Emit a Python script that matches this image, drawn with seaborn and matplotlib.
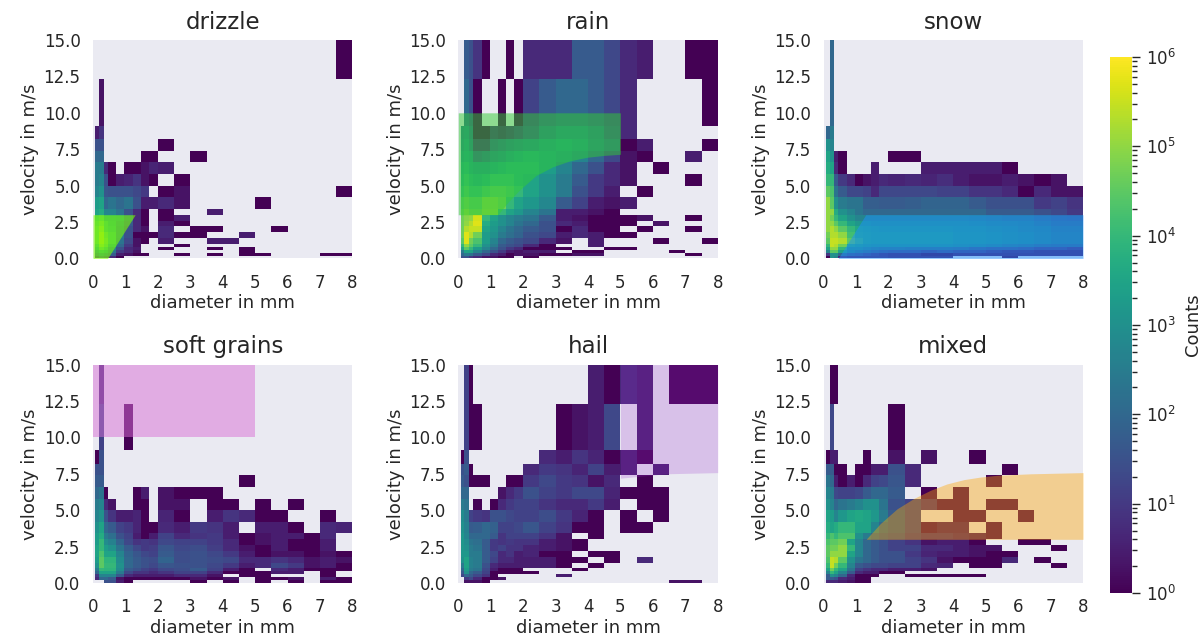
import numpy as np
import matplotlib
matplotlib.use('Agg')
import matplotlib.pyplot as plt
import seaborn as sns
from matplotlib.colors import LogNorm

# bin edges of the disdrometer classes
diameter_edges = [0.07, 0.19, 0.33, 0.46, 0.72, 0.97, 1.22, 1.47, 1.72, 2.0, 2.5, 3.0, 3.5,
                  4.0, 4.5, 5.0, 5.5, 6.0, 6.5, 7.0, 7.5, 8.0]
velocity_edges = [0, 0.2, 0.4, 0.6, 0.8, 1.0, 1.4, 1.8, 2.2, 2.6, 3.0, 3.4, 4.2, 5.0, 5.8, 6.6,
                  7.4, 8.2, 9.1, 12.3, 15.0]

# counts per bin, top row = fastest class, 0 = empty
drizzle = [
    [0, 0, 0, 0, 0, 0, 0, 0, 0, 0, 0, 0, 0, 0, 0, 0, 0, 0, 0, 0, 1],
    [0, 2, 0, 0, 0, 0, 0, 0, 0, 0, 0, 0, 0, 0, 0, 0, 0, 0, 0, 0, 0],
    [3, 8, 0, 0, 0, 0, 0, 0, 0, 0, 0, 0, 0, 0, 0, 0, 0, 0, 0, 0, 0],
    [30, 30, 0, 0, 0, 0, 0, 0, 0, 1, 0, 0, 0, 0, 0, 0, 0, 0, 0, 0, 0],
    [100, 100, 0, 0, 0, 0, 0, 1, 1, 0, 0, 1, 0, 0, 0, 0, 0, 0, 0, 0, 0],
    [300, 300, 5, 1, 0, 1, 1, 2, 4, 3, 0, 0, 0, 0, 0, 0, 0, 0, 0, 0, 0],
    [300, 500, 30, 1, 3, 4, 8, 2, 1, 0, 1, 0, 0, 0, 0, 0, 0, 0, 0, 0, 0],
    [500, 1000, 40, 30, 30, 30, 20, 10, 0, 1, 2, 0, 0, 0, 0, 0, 0, 0, 0, 0, 1],
    [2000, 3000, 100, 200, 100, 200, 30, 3, 3, 5, 2, 0, 0, 0, 0, 1, 0, 0, 0, 0, 0],
    [3000, 5000, 500, 500, 200, 30, 5, 1, 0, 1, 0, 0, 3, 0, 0, 0, 0, 0, 0, 0, 0],
    [10000, 20000, 2000, 2000, 1000, 100, 5, 1, 0, 1, 3, 0, 0, 0, 0, 0, 0, 0, 0, 0, 0],
    [20000, 50000, 10000, 3000, 500, 50, 5, 1, 0, 3, 1, 0, 0, 0, 0, 0, 0, 0, 0, 0, 0],
    [30000, 100000, 10000, 5000, 300, 30, 5, 2, 0, 5, 0, 1, 1, 0, 0, 0, 1, 0, 0, 0, 0],
    [30000, 200000, 30000, 10000, 300, 30, 1, 1, 1, 5, 1, 1, 0, 0, 3, 0, 0, 0, 0, 0, 0],
    [30000, 200000, 50000, 10000, 200, 20, 2, 1, 0, 3, 0, 0, 3, 3, 0, 0, 0, 0, 0, 0, 0],
    [10000, 100000, 30000, 3000, 100, 10, 2, 0, 0, 0, 1, 0, 0, 0, 0, 0, 0, 0, 0, 0, 0],
    [3000, 30000, 10000, 500, 30, 5, 3, 0, 0, 1, 0, 0, 1, 0, 1, 0, 0, 0, 0, 0, 0],
    [500, 5000, 2000, 200, 10, 5, 2, 0, 0, 0, 0, 0, 0, 0, 1, 0, 0, 0, 0, 0, 0],
    [100, 500, 200, 50, 3, 2, 1, 1, 0, 0, 1, 0, 1, 0, 1, 1, 0, 0, 0, 1, 1],
    [10, 50, 20, 5, 1, 0, 0, 0, 0, 0, 0, 0, 0, 0, 0, 0, 0, 0, 0, 0, 0],
]
rain = [
    [0, 50, 30, 8, 1, 0, 0, 1, 0, 5, 5, 5, 50, 50, 20, 5, 3, 0, 0, 1, 1],
    [0, 100, 30, 1, 0, 0, 1, 0, 1, 15, 50, 100, 100, 50, 20, 5, 0, 0, 0, 0, 1],
    [300, 500, 100, 1, 1, 5, 3, 5, 10, 30, 200, 500, 500, 200, 30, 5, 0, 0, 0, 0, 0],
    [500, 1000, 200, 5, 5, 50, 100, 200, 300, 500, 1000, 2000, 1000, 300, 100, 1, 3, 0, 0, 0, 1],
    [1000, 2000, 1000, 50, 100, 300, 500, 1000, 2000, 3000, 2000, 1000, 500, 100, 20, 2, 1, 0, 0, 3, 0],
    [3000, 5000, 2000, 1000, 1000, 2000, 3000, 5000, 5000, 5000, 2000, 500, 100, 30, 5, 2, 0, 1, 0, 0, 0],
    [5000, 10000, 5000, 3000, 5000, 10000, 10000, 10000, 5000, 3000, 1000, 300, 50, 10, 5, 2, 0, 0, 0, 1, 0],
    [10000, 20000, 10000, 10000, 20000, 30000, 30000, 20000, 10000, 3000, 1000, 300, 30, 10, 3, 0, 1, 0, 0, 0, 0],
    [30000, 50000, 30000, 30000, 80000, 80000, 50000, 10000, 3000, 1500, 600, 50, 15, 3, 2, 3, 0, 0, 0, 0, 0],
    [50000, 100000, 50000, 50000, 100000, 100000, 10000, 3000, 1500, 500, 200, 3, 3, 2, 1, 0, 0, 0, 0, 0, 0],
    [50000, 80000, 100000, 400000, 10000, 3000, 1000, 500, 300, 200, 50, 3, 2, 1, 1, 1, 2, 0, 0, 1, 0],
    [50000, 100000, 200000, 500000, 5000, 2000, 1000, 500, 200, 100, 30, 5, 3, 1, 1, 1, 0, 2, 0, 0, 0],
    [50000, 200000, 300000, 300000, 3000, 1500, 500, 200, 100, 50, 30, 1, 5, 1, 1, 0, 1, 0, 0, 1, 0],
    [50000, 500000, 200000, 50000, 2000, 1000, 300, 150, 80, 30, 20, 3, 5, 3, 1, 1, 0, 0, 0, 0, 0],
    [30000, 500000, 50000, 20000, 2000, 500, 100, 50, 30, 20, 5, 2, 0, 3, 0, 0, 0, 1, 0, 0, 1],
    [10000, 100000, 30000, 10000, 1000, 300, 50, 30, 20, 5, 1, 0, 0, 3, 0, 0, 0, 0, 0, 0, 0],
    [3000, 30000, 10000, 2000, 500, 100, 30, 10, 5, 1, 1, 1, 0, 0, 1, 1, 0, 0, 0, 0, 0],
    [300, 3000, 3000, 500, 100, 30, 10, 3, 2, 3, 3, 0, 1, 1, 0, 0, 0, 0, 1, 0, 0],
    [100, 300, 200, 50, 20, 5, 3, 1, 2, 2, 1, 1, 2, 2, 0, 0, 0, 0, 0, 1, 0],
    [30, 30, 10, 5, 2, 2, 1, 1, 0, 1, 0, 0, 0, 0, 0, 0, 0, 0, 0, 0, 0],
]
snow = [
    [0, 100, 0, 0, 0, 0, 0, 0, 0, 0, 0, 0, 0, 0, 0, 0, 0, 0, 0, 0, 0],
    [0, 100, 0, 0, 0, 0, 0, 0, 0, 0, 0, 0, 0, 0, 0, 0, 0, 0, 0, 0, 0],
    [100, 300, 0, 0, 0, 0, 0, 0, 0, 0, 0, 0, 0, 0, 0, 0, 0, 0, 0, 0, 0],
    [1000, 500, 0, 0, 0, 0, 0, 0, 0, 0, 0, 0, 0, 0, 0, 0, 0, 0, 0, 0, 0],
    [3000, 1000, 3, 1, 0, 0, 0, 0, 0, 1, 1, 0, 0, 0, 0, 0, 0, 0, 0, 0, 0],
    [5000, 3000, 5, 1, 0, 0, 0, 3, 0, 0, 0, 3, 3, 3, 3, 3, 1, 0, 0, 0, 0],
    [10000, 10000, 50, 10, 5, 1, 2, 3, 5, 4, 5, 4, 6, 3, 2, 2, 3, 2, 1, 2, 0],
    [30000, 20000, 200, 50, 20, 20, 15, 5, 20, 20, 20, 20, 15, 15, 8, 8, 5, 1, 5, 2, 2],
    [100000, 30000, 1000, 300, 200, 200, 60, 60, 50, 50, 60, 80, 80, 80, 50, 30, 30, 30, 10, 15, 8],
    [100000, 100000, 5000, 1000, 500, 200, 100, 100, 100, 100, 100, 100, 100, 100, 100, 50, 50, 50, 30, 20, 10],
    [100000, 50000, 10000, 3000, 1000, 500, 500, 500, 500, 500, 500, 500, 500, 500, 400, 300, 200, 200, 100, 60, 50],
    [100000, 100000, 30000, 10000, 3000, 1500, 1500, 1000, 1000, 1000, 1000, 1000, 1000, 1000, 800, 600, 500, 400, 200, 100, 100],
    [100000, 200000, 100000, 30000, 10000, 4000, 3000, 2500, 2000, 2000, 2000, 2000, 2000, 1500, 1500, 1000, 800, 500, 400, 200, 200],
    [50000, 200000, 200000, 100000, 15000, 5000, 4000, 3000, 3000, 3000, 3000, 3000, 3000, 2000, 2000, 1500, 1000, 800, 500, 300, 300],
    [30000, 300000, 300000, 200000, 30000, 10000, 4000, 3000, 3000, 3000, 3000, 3000, 3000, 2000, 2000, 1500, 1000, 800, 500, 300, 300],
    [10000, 300000, 200000, 50000, 5000, 3000, 2000, 1500, 1500, 1500, 1500, 1500, 1500, 1000, 800, 500, 300, 200, 100, 80, 80],
    [3000, 100000, 100000, 10000, 1000, 1000, 500, 300, 200, 200, 150, 150, 150, 100, 50, 30, 30, 20, 10, 10, 5],
    [500, 30000, 30000, 3000, 500, 200, 100, 50, 30, 20, 20, 10, 20, 10, 10, 5, 3, 3, 2, 2, 2],
    [10, 1000, 1000, 100, 30, 20, 10, 5, 3, 2, 2, 1, 1, 2, 2, 2, 2, 2, 2, 2, 2],
    [1, 1000, 500, 5, 3, 3, 3, 3, 3, 2, 2, 2, 2, 0, 0, 0, 1, 0, 0, 0, 0],
]
soft_grains = [
    [0, 5, 0, 0, 0, 0, 0, 0, 0, 0, 0, 0, 0, 0, 0, 0, 0, 0, 0, 0, 0],
    [0, 15, 0, 0, 0, 1, 0, 0, 0, 0, 0, 0, 0, 0, 0, 0, 0, 0, 0, 0, 0],
    [1, 30, 0, 0, 0, 0, 0, 0, 0, 0, 0, 0, 0, 0, 0, 0, 0, 0, 0, 0, 0],
    [30, 30, 0, 0, 0, 0, 0, 0, 0, 0, 0, 0, 0, 0, 0, 0, 0, 0, 0, 0, 0],
    [50, 50, 0, 0, 0, 0, 0, 0, 0, 0, 0, 0, 0, 0, 1, 0, 0, 0, 0, 0, 0],
    [100, 200, 1, 0, 0, 0, 1, 3, 0, 2, 1, 1, 1, 0, 0, 0, 0, 0, 0, 0, 0],
    [300, 500, 5, 2, 0, 0, 1, 1, 0, 2, 2, 0, 1, 1, 0, 1, 0, 1, 0, 0, 0],
    [500, 1000, 30, 8, 3, 3, 4, 1, 0, 4, 1, 0, 3, 8, 5, 1, 1, 0, 0, 1, 0],
    [1000, 3000, 100, 50, 15, 10, 4, 1, 1, 5, 3, 10, 8, 3, 0, 3, 3, 1, 0, 5, 4],
    [2000, 5000, 300, 150, 30, 15, 3, 1, 3, 15, 5, 8, 10, 3, 1, 2, 3, 3, 1, 5, 0],
    [2000, 10000, 800, 400, 80, 20, 8, 10, 8, 20, 15, 15, 10, 5, 1, 2, 3, 1, 1, 3, 0],
    [3000, 10000, 2000, 1000, 200, 50, 20, 10, 12, 40, 20, 25, 12, 5, 2, 1, 3, 1, 1, 3, 0],
    [3000, 20000, 3000, 3000, 500, 80, 40, 20, 15, 50, 25, 30, 20, 10, 3, 1, 2, 2, 1, 2, 1],
    [2000, 30000, 8000, 8000, 800, 100, 50, 30, 25, 80, 25, 30, 25, 20, 5, 5, 8, 5, 2, 3, 2],
    [1000, 30000, 10000, 10000, 1000, 100, 50, 30, 20, 40, 30, 30, 20, 10, 3, 5, 20, 10, 2, 3, 1],
    [300, 10000, 8000, 8000, 800, 50, 30, 15, 10, 20, 25, 50, 15, 3, 1, 0, 5, 3, 1, 1, 1],
    [100, 3000, 3000, 3000, 300, 20, 8, 8, 5, 8, 15, 15, 5, 1, 1, 1, 3, 3, 0, 1, 0],
    [10, 500, 500, 500, 50, 5, 3, 3, 3, 3, 5, 5, 2, 0, 1, 1, 0, 0, 0, 1, 0],
    [5, 100, 100, 50, 2, 1, 1, 1, 1, 1, 1, 2, 1, 2, 0, 1, 1, 2, 0, 3, 1],
    [0, 0, 30, 30, 3, 1, 0, 0, 0, 0, 0, 1, 0, 1, 0, 1, 0, 1, 0, 1, 1],
]
hail = [
    [0, 15, 1, 0, 0, 0, 0, 0, 0, 0, 0, 0, 0, 3, 1, 5, 3, 0, 1, 1, 1],
    [0, 15, 1, 1, 0, 0, 0, 0, 0, 0, 0, 1, 2, 3, 20, 0, 3, 0, 0, 0, 0],
    [1, 30, 0, 0, 0, 0, 0, 0, 0, 0, 5, 3, 8, 4, 1, 3, 1, 0, 0, 0, 0],
    [30, 50, 1, 0, 0, 0, 0, 0, 0, 5, 10, 8, 4, 15, 3, 3, 0, 3, 0, 0, 0],
    [50, 30, 1, 1, 1, 0, 0, 1, 1, 10, 20, 10, 8, 2, 5, 0, 1, 0, 0, 0, 0],
    [100, 100, 0, 0, 0, 0, 2, 5, 10, 30, 15, 10, 20, 20, 4, 1, 1, 1, 0, 0, 0],
    [300, 200, 0, 1, 0, 1, 5, 10, 15, 15, 8, 5, 5, 10, 3, 0, 1, 1, 0, 0, 0],
    [800, 300, 15, 10, 8, 30, 30, 20, 15, 15, 25, 10, 4, 1, 0, 1, 0, 1, 0, 0, 0],
    [1000, 400, 50, 60, 100, 70, 15, 15, 20, 40, 15, 8, 1, 1, 0, 1, 1, 0, 0, 0, 0],
    [1500, 500, 100, 100, 100, 50, 8, 15, 15, 15, 8, 2, 0, 1, 0, 0, 0, 0, 0, 0, 0],
    [1500, 800, 200, 150, 50, 10, 8, 10, 8, 8, 3, 2, 1, 0, 0, 0, 0, 0, 0, 0, 0],
    [1500, 1000, 300, 200, 50, 10, 15, 8, 8, 4, 3, 2, 1, 0, 0, 0, 0, 0, 0, 0, 0],
    [1500, 1500, 300, 300, 50, 20, 5, 8, 3, 4, 1, 1, 0, 1, 1, 0, 0, 0, 0, 0, 0],
    [1000, 3000, 400, 300, 50, 15, 5, 5, 3, 3, 3, 1, 1, 0, 1, 0, 5, 0, 0, 0, 0],
    [300, 3000, 400, 300, 30, 5, 3, 3, 3, 3, 3, 1, 0, 1, 0, 0, 0, 0, 0, 0, 0],
    [100, 2000, 300, 200, 20, 3, 1, 1, 1, 0, 0, 0, 1, 0, 0, 0, 0, 0, 0, 0, 0],
    [50, 1000, 100, 50, 15, 1, 1, 1, 1, 1, 0, 0, 0, 0, 0, 0, 0, 0, 0, 0, 0],
    [20, 100, 50, 20, 8, 1, 0, 0, 0, 0, 0, 3, 0, 0, 0, 0, 0, 0, 0, 0, 0],
    [0, 10, 20, 5, 1, 1, 2, 0, 0, 0, 0, 0, 0, 0, 0, 0, 0, 0, 0, 0, 0],
    [0, 2, 2, 2, 1, 0, 0, 0, 0, 0, 0, 0, 0, 0, 0, 0, 0, 0, 2, 2, 0],
]
mixed = [
    [0, 1, 1, 0, 0, 0, 0, 0, 0, 0, 0, 0, 0, 0, 0, 0, 0, 0, 0, 0, 0],
    [0, 20, 0, 0, 0, 0, 0, 0, 0, 1, 0, 0, 0, 0, 0, 0, 0, 0, 0, 0, 0],
    [1, 3, 3, 0, 0, 0, 1, 0, 0, 2, 0, 2, 0, 0, 1, 0, 0, 0, 0, 0, 0],
    [50, 50, 1, 1, 0, 1, 1, 3, 3, 30, 5, 0, 0, 0, 0, 0, 1, 0, 0, 0, 0],
    [200, 100, 3, 1, 3, 1, 5, 15, 20, 40, 5, 0, 0, 0, 0, 1, 0, 0, 0, 0, 0],
    [500, 300, 20, 15, 15, 20, 50, 100, 100, 50, 0, 1, 0, 1, 0, 0, 0, 0, 0, 0, 0],
    [1000, 500, 100, 200, 300, 500, 1000, 1000, 200, 30, 15, 5, 1, 1, 0, 1, 1, 0, 0, 0, 0],
    [3000, 2000, 500, 1500, 3000, 4000, 3000, 1500, 300, 50, 15, 0, 0, 1, 1, 0, 0, 1, 0, 0, 0],
    [5000, 3000, 5000, 10000, 10000, 3000, 3000, 500, 100, 50, 15, 1, 2, 2, 0, 1, 0, 0, 0, 0, 0],
    [10000, 20000, 10000, 20000, 20000, 1000, 300, 100, 50, 30, 10, 5, 5, 3, 2, 1, 0, 0, 0, 0, 0],
    [20000, 30000, 30000, 50000, 3000, 500, 100, 50, 30, 15, 8, 2, 3, 3, 1, 0, 0, 1, 1, 0, 0],
    [30000, 50000, 50000, 100000, 10000, 500, 100, 50, 30, 15, 15, 5, 5, 3, 2, 2, 0, 0, 0, 1, 0],
    [30000, 100000, 100000, 100000, 3000, 500, 100, 50, 30, 30, 10, 4, 3, 3, 2, 1, 1, 0, 0, 0, 0],
    [20000, 300000, 200000, 30000, 1000, 200, 100, 50, 30, 30, 15, 8, 2, 1, 1, 1, 5, 0, 1, 0, 0],
    [10000, 300000, 50000, 10000, 500, 50, 30, 20, 20, 15, 15, 5, 4, 0, 1, 1, 0, 0, 0, 1, 0],
    [3000, 50000, 10000, 3000, 200, 15, 8, 5, 5, 3, 3, 2, 0, 0, 0, 0, 0, 0, 0, 0, 0],
    [500, 10000, 3000, 500, 50, 5, 3, 3, 1, 1, 0, 0, 0, 0, 0, 0, 0, 0, 0, 0, 0],
    [50, 1000, 500, 100, 5, 1, 1, 1, 0, 0, 1, 1, 1, 1, 1, 0, 0, 0, 0, 0, 0],
    [50, 50, 30, 5, 3, 1, 1, 0, 0, 0, 0, 0, 0, 0, 0, 0, 0, 0, 0, 0, 0],
    [5, 5, 5, 3, 2, 1, 1, 0, 0, 0, 0, 0, 0, 0, 0, 0, 0, 0, 0, 0, 0],
]

titles = ['drizzle', 'rain', 'snow', 'soft grains', 'hail', 'mixed']
panels = [drizzle, rain, snow, soft_grains, hail, mixed]

# outlines of the shaded classes
drizzle_v = [0, 3]
drizzle_d = [0.45, 1.3]
rain_d = [1.22, 1.55, 1.89, 2.4, 2.92, 3.44, 3.95, 4.47, 5.0]
rain_v = [3.0, 3.9, 4.7, 5.7, 6.3, 6.7, 6.94, 7.07, 7.15]
mixed_d = [1.29, 1.75, 2.27, 2.78, 3.3, 3.8, 4.33, 4.85, 5.36, 6.4, 8.0]
mixed_v = [2.95, 4.08, 5.1, 5.8, 6.37, 6.8, 7.1, 7.28, 7.4, 7.5, 7.58]
hail_d = [5.0, 6.4, 8.0]
hail_v = [7.2, 7.5, 7.58]

sns.set_theme(style='dark')
cmap = sns.color_palette('viridis', as_cmap=True)
norm = LogNorm(vmin=1, vmax=1e6)

fig, axes = plt.subplots(2, 3, figsize=(12.04, 6.41), dpi=100)
fig.subplots_adjust(left=93 / 1204, right=1083 / 1204, top=1 - 40 / 641, bottom=1 - 583 / 641,
                    wspace=0.408, hspace=0.486)

for ax, title, counts in zip(axes.flat, titles, panels):
    c = np.array(counts[::-1], dtype=float)
    c[c == 0] = np.nan
    mesh = ax.pcolormesh(diameter_edges, velocity_edges, c, cmap=cmap, norm=norm)
    ax.set_xlim(0, 8)
    ax.set_ylim(0, 15)
    ax.set_xticks(range(0, 9))
    ax.set_yticks([0, 2.5, 5, 7.5, 10, 12.5, 15])
    ax.tick_params(labelsize=12, pad=3)
    ax.tick_params(axis='x', pad=5)
    ax.set_xlabel('diameter in mm', fontsize=13, labelpad=2)
    ax.set_ylabel('velocity in m/s', fontsize=13, labelpad=3)
    ax.set_title(title, fontsize=16.5, pad=8)
    for s in ax.spines.values():
        s.set_visible(False)

a = axes.flat
a[0].fill_betweenx(drizzle_v, 0, drizzle_d, color='lawngreen', alpha=0.6, lw=0)
a[1].fill_between([0, 1.22] + rain_d[1:], [3, 3] + rain_v[1:], 10, color='limegreen', alpha=0.5, lw=0)
a[2].fill_betweenx(drizzle_v, drizzle_d, 8, color='dodgerblue', alpha=0.5, lw=0)
a[3].fill_between([0, 5], 10, 15, color='orchid', alpha=0.5, lw=0)
a[4].fill_between(hail_d, hail_v, 15, color='darkorchid', alpha=0.22, lw=0)
a[5].fill_between(mixed_d, 3, mixed_v, color='orange', alpha=0.4, lw=0)

cax = fig.add_axes([1110 / 1204, 1 - 593 / 641, 22 / 1204, 536 / 641])
cb = fig.colorbar(mesh, cax=cax)
cb.set_label('Counts', fontsize=13, labelpad=6)
cb.outline.set_visible(False)
cax.tick_params(which='major', right=True, length=6, width=1, color='.15', labelsize=12, pad=4)
cax.tick_params(which='minor', right=True, length=3.5, width=1, color='.15')

fig.savefig('out.png', dpi=100)
